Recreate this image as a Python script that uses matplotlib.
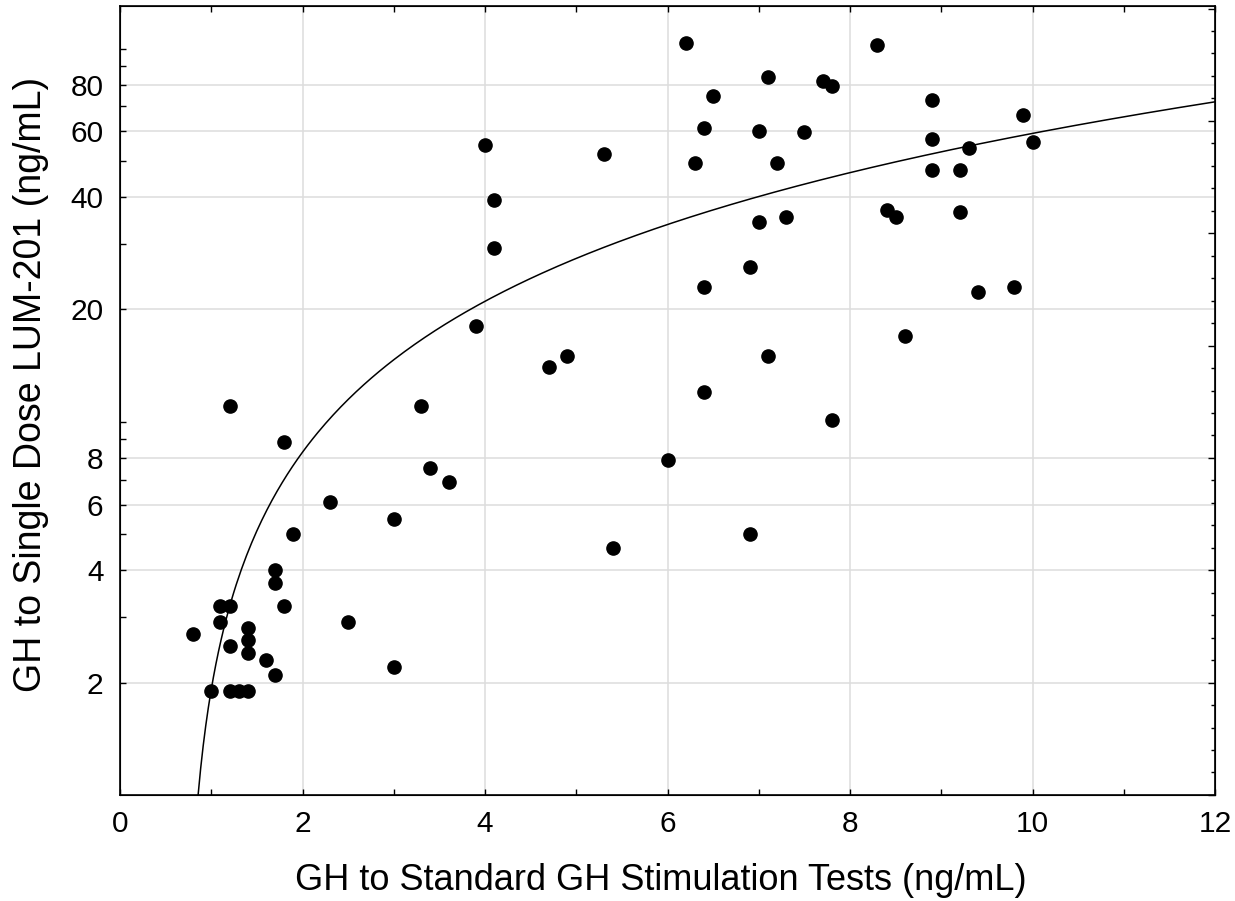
import numpy as np
import matplotlib
matplotlib.use("Agg")
import matplotlib.pyplot as plt
from matplotlib.ticker import FixedLocator, MultipleLocator, NullFormatter

plt.rcParams['font.family'] = ['Liberation Sans', 'DejaVu Sans']

# GH respuesta a pruebas estandar (x) vs dosis unica LUM-201 (y)
gh_standard = [0.8, 1.0, 1.2, 1.3, 1.4, 1.1, 1.2, 1.1, 1.2, 1.4,
               1.4, 1.4, 1.6, 1.7, 1.7, 1.7, 1.8, 2.5, 3.0, 1.2,
               1.8, 2.3, 1.9, 3.9, 4.7, 4.9, 3.3, 3.4, 3.6, 3.0,
               5.4, 6.0, 6.9, 6.4, 7.1, 7.8, 8.6, 6.4, 6.9, 7.0,
               7.3, 8.4, 8.5, 9.2, 9.4, 9.8, 8.9, 9.2, 9.3, 10.0,
               8.9, 9.9, 8.9, 6.2, 8.3, 7.1, 7.7, 7.8, 6.5, 6.4,
               7.0, 7.5, 6.3, 7.2, 4.0, 5.3, 4.1, 4.1]
gh_lum201 = [2.7, 1.9, 1.9, 1.9, 1.9, 3.2, 3.2, 2.9, 2.5, 2.8,
             2.6, 2.4, 2.3, 2.1, 4.0, 3.7, 3.2, 2.9, 2.2, 11.0,
             8.8, 6.1, 5.0, 18.0, 14.0, 15.0, 11.0, 7.5, 6.9, 5.5,
             4.6, 7.9, 5.0, 12.0, 15.0, 10.1, 17.0, 23.0, 26.0, 34.3,
             35.3, 37.0, 35.3, 36.4, 22.2, 23.0, 47.3, 47.3, 54.2, 56.1,
             57.3, 66.2, 72.6, 103.6, 102.0, 83.7, 81.7, 79.2, 74.7, 61.3,
             60.1, 59.6, 49.3, 49.3, 55.3, 52.2, 39.2, 29.2]

# recta de ajuste (lineal en escala original)
fit_slope = 6.37
fit_intercept = -4.45

x_ticks = [0, 2, 4, 6, 8, 10, 12]
y_ticks = [2, 4, 6, 8, 20, 40, 60, 80]
y_minor = [3, 5, 7, 9, 10, 30, 50, 70, 90, 100]

fig = plt.figure(figsize=(12.35, 9.01), dpi=100)
ax = fig.add_axes([0.0972, 0.1177, 0.8866, 0.8756])

ax.set_yscale('log')
ax.set_xlim(0, 12)
ax.set_ylim(1, 130)

# linea de ajuste
x0 = (1 - fit_intercept) / fit_slope
xf = np.linspace(x0, 12, 400)
ax.plot(xf, fit_intercept + fit_slope * xf, color='black', lw=1.1, zorder=3)

ax.plot(gh_standard, gh_lum201, 'o', color='black', ms=9.5, mec='black',
        zorder=4, clip_on=False)

ax.xaxis.set_major_locator(FixedLocator(x_ticks))
ax.xaxis.set_minor_locator(MultipleLocator(1))
ax.yaxis.set_major_locator(FixedLocator(y_ticks))
ax.yaxis.set_minor_locator(FixedLocator(y_minor))
ax.yaxis.set_major_formatter(plt.FuncFormatter(lambda v, p: f"{v:g}"))
ax.yaxis.set_minor_formatter(NullFormatter())

ax.grid(True, which='major', color='#dddddd', lw=1.1, zorder=0)
ax.set_axisbelow(True)

ax.tick_params(which='both', direction='in', length=4, width=1,
               labelsize=21.5, top=True, right=False)
ax.tick_params(axis='x', pad=11)
ax.tick_params(axis='y', pad=12)
for s in ax.spines.values():
    s.set_linewidth(1.2)

# eje derecho con marcas log2
ax2 = ax.twinx()
ax2.set_yscale('log')
ax2.set_ylim(1, 130)
ax2.yaxis.set_major_locator(FixedLocator([2 ** k for k in range(8)]))
ax2.yaxis.set_minor_locator(FixedLocator([2 ** (k / 5) for k in range(36)]))
ax2.yaxis.set_major_formatter(NullFormatter())
ax2.yaxis.set_minor_formatter(NullFormatter())
ax2.tick_params(which='major', direction='in', length=5, width=1)
ax2.tick_params(which='minor', direction='in', length=3, width=1)

ax.set_xlabel('GH to Standard GH Stimulation Tests (ng/mL)', fontsize=26)
ax.xaxis.set_label_coords(0.494, -0.086)
ax.set_ylabel('GH to Single Dose LUM-201 (ng/mL)', fontsize=27)
ax.yaxis.set_label_coords(-0.065, 0.52)

fig.savefig('out.png', dpi=100)
